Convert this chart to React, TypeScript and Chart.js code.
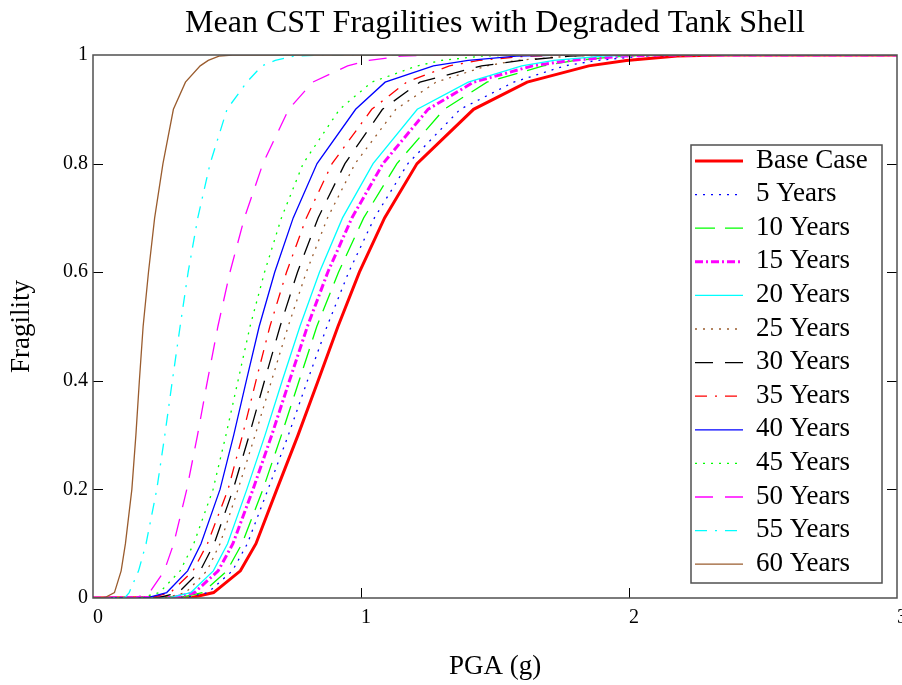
import { useEffect, useRef } from "react";
import { Chart, registerables } from "chart.js";

Chart.register(...registerables);

const TITLE = "Mean CST Fragilities with Degraded Tank Shell";
const X_LABEL = "PGA (g)";
const Y_LABEL = "Fragility";
const X_TICKS = [0, 1, 2, 3];
const Y_TICKS = [0, 0.2, 0.4, 0.6, 0.8, 1];
const Y_TICK_LABELS = ["0", "0.2", "0.4", "0.6", "0.8", "1"];

const SERIES_NAMES = [
  "Base Case", "5 Years", "10 Years", "15 Years", "20 Years", "25 Years", "30 Years",
  "35 Years", "40 Years", "45 Years", "50 Years", "55 Years", "60 Years",
];

// Fragility levels at which the PGA of each curve was read
const FRAGILITY_LEVELS = [0, 0.001, 0.01, 0.05, 0.1, 0.2, 0.3, 0.4, 0.5, 0.6, 0.7, 0.8, 0.9, 0.95, 0.98, 0.99, 0.998, 1, 1];

const PGA_BASE = [0, 0.37, 0.45, 0.55, 0.608, 0.686, 0.765, 0.84, 0.914, 0.994, 1.088, 1.209, 1.42, 1.62, 1.85, 1.99, 2.18, 2.35, 3];
const PGA_5Y = [0, 0.345, 0.429, 0.52, 0.576, 0.653, 0.729, 0.8, 0.873, 0.954, 1.05, 1.175, 1.37, 1.57, 1.76, 1.88, 2.05, 2.2, 3];
const PGA_10Y = [0, 0.327, 0.409, 0.5, 0.556, 0.634, 0.703, 0.769, 0.835, 0.916, 1.01, 1.134, 1.31, 1.47, 1.68, 1.8, 1.98, 2.15, 3];
const PGA_15Y = [0, 0.3, 0.379, 0.467, 0.522, 0.597, 0.667, 0.733, 0.8, 0.876, 0.966, 1.082, 1.25, 1.42, 1.64, 1.78, 1.98, 2.1, 3];
const PGA_20Y = [0, 0.289, 0.365, 0.449, 0.502, 0.574, 0.642, 0.706, 0.772, 0.845, 0.931, 1.045, 1.21, 1.4, 1.6, 1.72, 1.9, 2.05, 3];
const PGA_25Y = [0, 0.275, 0.346, 0.425, 0.474, 0.541, 0.605, 0.666, 0.728, 0.796, 0.875, 0.978, 1.13, 1.28, 1.47, 1.58, 1.78, 1.95, 3];
const PGA_30Y = [0, 0.247, 0.319, 0.4, 0.452, 0.523, 0.583, 0.64, 0.698, 0.763, 0.84, 0.94, 1.08, 1.22, 1.45, 1.6, 1.78, 1.9, 3];
const PGA_35Y = [0, 0.217, 0.289, 0.373, 0.427, 0.504, 0.558, 0.608, 0.66, 0.722, 0.796, 0.892, 1.04, 1.17, 1.33, 1.44, 1.62, 1.8, 3];
const PGA_40Y = [0, 0.208, 0.275, 0.353, 0.403, 0.474, 0.525, 0.572, 0.62, 0.678, 0.747, 0.836, 0.98, 1.09, 1.27, 1.4, 1.58, 1.75, 3];
const PGA_45Y = [0, 0.182, 0.248, 0.325, 0.376, 0.448, 0.496, 0.541, 0.586, 0.64, 0.703, 0.784, 0.92, 1.04, 1.21, 1.3, 1.45, 1.6, 3];
const PGA_50Y = [0, 0.163, 0.211, 0.266, 0.301, 0.35, 0.39, 0.427, 0.466, 0.511, 0.565, 0.634, 0.73, 0.82, 0.95, 1.03, 1.15, 1.3, 3];
const PGA_55Y = [0, 0.12, 0.135, 0.17, 0.198, 0.238, 0.268, 0.296, 0.325, 0.355, 0.391, 0.437, 0.5, 0.574, 0.63, 0.68, 0.75, 0.85, 3];
const PGA_60Y = [0, 0.045, 0.08, 0.105, 0.121, 0.145, 0.16, 0.173, 0.187, 0.207, 0.23, 0.261, 0.3, 0.345, 0.4, 0.43, 0.47, 0.52, 3];

const SERIES = [PGA_BASE, PGA_5Y, PGA_10Y, PGA_15Y, PGA_20Y, PGA_25Y, PGA_30Y, PGA_35Y, PGA_40Y, PGA_45Y, PGA_50Y, PGA_55Y, PGA_60Y];

const BROWN = "#9a5c2e";
const STYLES = [
  { color: "#ff0000", width: 3, dash: [] },
  { color: "#0000ff", width: 1.3, dash: [2, 6] },
  { color: "#00ff00", width: 1.3, dash: [20, 10] },
  { color: "#ff00ff", width: 3, dash: [8, 3, 2, 3] },
  { color: "#00ffff", width: 1.3, dash: [] },
  { color: BROWN, width: 1.3, dash: [2, 6] },
  { color: "#000000", width: 1.3, dash: [18, 12] },
  { color: "#ff0000", width: 1.3, dash: [12, 8, 2, 8] },
  { color: "#0000ff", width: 1.3, dash: [] },
  { color: "#00ff00", width: 1.3, dash: [2, 6] },
  { color: "#ff00ff", width: 1.3, dash: [18, 12] },
  { color: "#00ffff", width: 1.3, dash: [12, 8, 2, 8] },
  { color: BROWN, width: 1.3, dash: [] },
];

const FONT = '"Liberation Serif", "Times New Roman", serif';

const framePlugin = {
  id: "frameAndLegend",
  afterDatasetsDraw(chart: any) {
    const { ctx, chartArea: a, scales } = chart;
    ctx.save();
    ctx.strokeStyle = "#000";
    ctx.lineWidth = 1;
    const tl = 10;
    scales.x.ticks.forEach((t: any) => {
      const px = Math.round(scales.x.getPixelForValue(t.value)) + 0.5;
      if (px <= a.left + 1 || px >= a.right - 1) return;
      ctx.beginPath();
      ctx.moveTo(px, a.bottom);
      ctx.lineTo(px, a.bottom - tl);
      ctx.moveTo(px, a.top);
      ctx.lineTo(px, a.top + tl);
      ctx.stroke();
    });
    scales.y.ticks.forEach((t: any) => {
      const py = Math.round(scales.y.getPixelForValue(t.value)) + 0.5;
      if (py <= a.top + 1 || py >= a.bottom - 1) return;
      ctx.beginPath();
      ctx.moveTo(a.left, py);
      ctx.lineTo(a.left + tl, py);
      ctx.moveTo(a.right, py);
      ctx.lineTo(a.right - tl, py);
      ctx.stroke();
    });
    ctx.strokeStyle = "#505050";
    ctx.lineWidth = 1.5;
    ctx.strokeRect(a.left, a.top, a.right - a.left, a.bottom - a.top);
    ctx.restore();
  },
  afterDraw(chart: any) {
    const { ctx, chartArea: a } = chart;
    const boxW = 191;
    const boxH = 438;
    const boxRight = a.right - 15;
    const boxLeft = boxRight - boxW;
    const boxTop = a.top + 90;
    const rowH = 33.6;
    ctx.save();
    ctx.fillStyle = "#ffffff";
    ctx.fillRect(boxLeft, boxTop, boxW, boxH);
    ctx.strokeStyle = "#505050";
    ctx.lineWidth = 1.5;
    ctx.strokeRect(boxLeft, boxTop, boxW, boxH);
    chart.data.datasets.forEach((ds: any, i: number) => {
      const cy = boxTop + 15.5 + i * rowH;
      ctx.beginPath();
      ctx.strokeStyle = ds.borderColor;
      ctx.lineWidth = ds.borderWidth;
      ctx.setLineDash(ds.borderDash || []);
      ctx.moveTo(boxLeft + 4, cy + 0.5);
      ctx.lineTo(boxLeft + 52, cy + 0.5);
      ctx.stroke();
      ctx.setLineDash([]);
      ctx.fillStyle = "#000";
      ctx.font = `27px ${FONT}`;
      ctx.textAlign = "left";
      ctx.textBaseline = "middle";
      ctx.fillText(ds.label, boxLeft + 65, cy);
    });
    ctx.restore();
  },
};

export default function App() {
  const ref = useRef<HTMLCanvasElement | null>(null);
  useEffect(() => {
    document.body.style.margin = "0";
    const canvas = ref.current;
    if (!canvas) return;
    const chart = new Chart(canvas, {
      type: "line",
      data: {
        datasets: SERIES.map((s, i) => ({
          label: SERIES_NAMES[i],
          data: FRAGILITY_LEVELS.map((f, j) => ({ x: s[j], y: f })),
          borderColor: STYLES[i].color,
          borderWidth: STYLES[i].width,
          borderDash: STYLES[i].dash,
          pointRadius: 0,
          fill: false,
          tension: 0,
          order: SERIES.length - 1 - i,
        })),
      },
      options: {
        animation: false,
        responsive: false,
        maintainAspectRatio: false,
        layout: { padding: { left: 0, right: 5, top: 0, bottom: 0 } },
        plugins: {
          legend: { display: false },
          tooltip: { enabled: false },
          title: {
            display: true,
            text: TITLE,
            fullSize: false,
            color: "#000",
            font: { family: FONT, size: 32, weight: "normal" },
            padding: { top: 4, bottom: 12.6 },
          },
        },
        scales: {
          x: {
            type: "linear",
            min: X_TICKS[0],
            max: X_TICKS[X_TICKS.length - 1],
            afterBuildTicks: (scale: any) => {
              scale.ticks = X_TICKS.map((v) => ({ value: v }));
            },
            afterFit: (scale: any) => {
              scale.height = 87;
              scale.paddingLeft = 0;
              scale.paddingRight = 0;
            },
            grid: { display: false, drawTicks: false },
            border: { display: false },
            ticks: {
              align: "start",
              padding: 8,
              color: "#000",
              font: { family: FONT, size: 20 },
              maxRotation: 0,
              autoSkip: false,
              callback: (v: any) => String(v),
            },
            title: {
              display: true,
              text: X_LABEL,
              color: "#000",
              font: { family: FONT, size: 27 },
              padding: { top: 0, bottom: 2 },
            },
          },
          y: {
            type: "linear",
            min: Y_TICKS[0],
            max: Y_TICKS[Y_TICKS.length - 1],
            afterBuildTicks: (scale: any) => {
              scale.ticks = Y_TICKS.map((v) => ({ value: v }));
            },
            afterFit: (scale: any) => {
              scale.width = 93;
            },
            grid: { display: false, drawTicks: false },
            border: { display: false },
            ticks: {
              padding: 5,
              color: "#000",
              font: { family: FONT, size: 20 },
              autoSkip: false,
              callback: (_v: any, i: number) => Y_TICK_LABELS[i],
            },
            title: {
              display: true,
              text: Y_LABEL,
              color: "#000",
              font: { family: FONT, size: 27 },
              padding: { top: 6, bottom: 0 },
            },
          },
        },
      },
      plugins: [framePlugin],
    } as any);
    return () => chart.destroy();
  }, []);
  return (
    <div style={{ width: 902, height: 685 }}>
      <canvas ref={ref} width={902} height={685} style={{ display: "block", width: 902, height: 685 }} />
    </div>
  );
}
